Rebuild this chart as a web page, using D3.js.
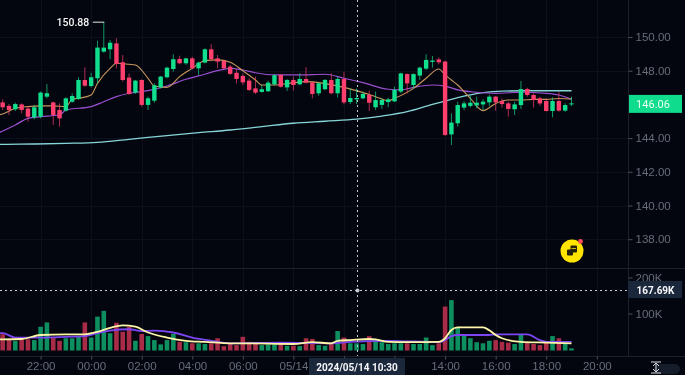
<!DOCTYPE html>
<html>
<head>
<meta charset="utf-8">
<script src="https://cdnjs.cloudflare.com/ajax/libs/d3/7.8.5/d3.min.js"></script>
<style>
    html, body { margin: 0; padding: 0; background: #04060f; overflow: hidden; }
    svg { display: block; font-family: Roboto, sans-serif; filter: blur(0.35px); }
    .tick text { fill: #666d7a; font-size: 11.5px; }
    .tick line { stroke: #4a505c; }
</style>
</head>
<body>
<div id="chart"></div>
<script>
// candles, 15 min apart, first one 05/13 20:30
const open = [146.12,145.91,145.71,146.00,145.75,145.23,145.27,146.46,146.12,145.67,145.63,146.16,146.32,147.45,147.09,147.55,149.13,149.27,149.62,148.50,147.59,146.70,147.45,145.97,146.22,147.01,147.61,148.10,148.70,148.44,148.73,148.14,148.48,149.27,148.73,148.58,148.24,147.88,147.69,147.41,146.95,146.74,146.78,147.19,147.75,147.01,147.45,147.19,147.51,147.31,146.66,146.90,147.45,146.66,147.51,146.14,146.30,146.36,146.56,145.83,145.97,146.14,146.18,146.76,147.80,147.15,147.71,148.12,148.52,148.67,148.54,144.22,144.88,145.81,145.91,145.94,146.00,146.12,146.46,146.20,146.06,145.71,145.96,146.91,146.56,146.36,146.20,145.61,146.20,145.63,146.00];
const close = [145.83,145.67,146.02,145.67,145.27,145.83,146.70,146.66,145.37,145.17,146.36,146.50,147.45,147.11,147.61,149.37,149.37,149.66,148.40,147.45,146.62,147.41,145.97,146.36,147.13,147.65,148.18,148.68,148.44,148.73,148.14,148.48,149.27,148.68,148.54,148.14,147.81,147.51,147.31,146.86,146.70,146.90,147.29,147.73,147.05,147.45,147.15,147.51,147.29,146.62,147.25,147.45,146.66,147.51,146.12,146.38,146.38,146.62,146.10,146.26,146.26,146.30,146.86,147.84,147.25,147.80,148.18,148.64,148.60,148.50,144.19,144.92,145.96,146.06,146.10,146.10,146.16,146.46,146.12,146.02,145.73,146.00,146.91,146.56,146.26,146.06,145.61,146.20,145.63,145.96,146.06];
const high = [146.30,146.02,146.10,146.06,145.91,145.97,146.76,147.21,146.16,146.06,146.42,146.66,147.61,148.20,147.88,149.78,150.88,149.82,149.92,148.93,147.84,147.45,147.49,146.46,147.25,147.69,148.24,148.97,148.89,148.77,148.83,148.54,149.33,149.57,148.93,148.64,148.34,148.08,147.84,147.55,147.65,147.15,147.41,147.79,147.79,147.51,147.65,147.84,148.20,147.35,147.29,147.51,147.84,147.65,147.94,146.95,146.95,146.76,146.82,146.76,146.36,146.40,147.05,147.88,147.84,147.84,148.24,148.97,148.87,148.79,148.60,145.47,146.16,146.20,146.50,146.46,146.30,146.56,146.50,146.36,146.16,146.16,147.39,146.99,146.66,146.46,146.36,146.42,146.76,146.06,146.46];
const low = [145.67,145.37,145.61,145.47,144.98,145.11,145.17,146.36,144.78,144.68,145.57,146.10,146.26,147.05,147.01,147.25,149.07,148.68,148.14,147.35,146.56,146.62,145.87,145.67,146.10,146.95,147.55,147.94,148.38,148.34,148.08,147.75,148.44,148.60,148.14,148.08,147.75,147.25,147.15,146.80,146.62,146.70,146.74,147.13,146.99,146.80,146.82,147.13,147.25,146.36,146.52,146.84,146.60,146.40,146.00,146.02,146.02,146.30,145.61,145.67,145.73,145.83,146.14,146.66,146.66,146.95,147.45,148.04,148.18,148.38,144.13,143.59,144.68,145.67,145.81,145.77,145.67,145.90,145.63,145.81,145.27,145.37,145.73,146.46,145.81,145.92,145.57,145.23,145.57,145.57,145.90];
const volume = [45,31,27,34,31,29,66,78,36,27,34,34,38,78,36,94,110,48,77,52,66,27,46,40,29,17,29,46,24,23,20,20,18,20,34,12,20,15,38,24,22,15,17,17,18,13,13,12,34,32,15,13,18,54,36,20,20,18,40,29,23,18,20,20,20,18,18,36,15,20,122,140,66,43,34,23,20,27,29,24,22,18,43,22,18,15,22,40,34,20,6];

// moving averages: [candle number, value]
const maFast = [[0,145.35],[1,145.43],[3,145.77],[5,145.87],[7,145.91],[9,145.91],[11,145.87],[12,146.30],[13,146.36],[15,146.56],[16,147.25],[18,148.14],[19,148.44],[21,148.38],[22,148.34],[24,147.55],[25,147.09],[27,147.01],[29,147.65],[31,148.14],[33,148.60],[35,148.64],[37,148.50],[39,148.00],[41,147.45],[42,147.15],[44,147.15],[47,147.29],[49,147.35],[55,147.01],[58,146.70],[60,146.46],[62,146.22],[63,146.36],[66,146.95],[68,147.55],[70,148.10],[71,147.75],[72,147.45],[73,147.15],[74,146.76],[75,146.36],[77,145.63],[79,146.06],[81,146.26],[83,146.26],[85,146.30],[87,146.30],[89,146.35],[91,146.32]];
const maMid = [[0,144.25],[1,144.42],[3,144.78],[5,145.17],[7,145.27],[10,145.37],[11,145.67],[15,145.87],[17,146.16],[19,146.46],[21,146.66],[24,146.82],[27,147.09],[30,147.49],[32,147.69],[35,148.00],[37,148.14],[39,148.04],[41,147.88],[44,147.75],[48,147.75],[52,147.79],[55,147.55],[58,147.29],[62,146.90],[64,146.86],[66,147.01],[69,147.15],[71,147.09],[73,146.86],[76,146.72],[79,146.66],[83,146.72],[87,146.66],[89,146.56],[91,146.30]];
const maSlow = [[0,143.62],[1,143.63],[6,143.65],[11,143.69],[16,143.75],[21,143.93],[27,144.15],[32,144.32],[37,144.48],[42,144.68],[47,144.88],[52,145.00],[57,145.12],[61,145.31],[65,145.57],[69,146.00],[71,146.20],[73,146.40],[77,146.70],[80,146.79],[84,146.81],[91,146.81]];
const volMaA = [[0,31],[1,31],[4,32],[7,43],[11,45],[14,45],[16,52],[18,63],[20,70],[22,66],[24,50],[27,36],[30,27],[33,24],[37,20],[39,20],[47,18],[50,23],[53,20],[54,27],[56,29],[59,32],[60,31],[62,24],[65,23],[70,24],[71,34],[72,57],[73,64],[77,64],[78,56],[79,43],[80,34],[83,24],[87,22],[91,20]];
const volMaB = [[0,48],[1,48],[3,36],[7,36],[11,38],[14,40],[16,48],[18,55],[21,59],[23,54],[25,55],[28,50],[31,36],[34,27],[37,20],[45,22],[53,20],[56,24],[62,27],[70,23],[71,29],[72,40],[73,43],[78,43],[79,45],[84,45],[86,29],[87,24],[91,24]];

// 146.00 sits under the last price tag, so it has no label
const priceTicks = [150, 148, 144, 142, 140, 138];
const volTicks = [200, 100];
const lastPrice = 146.06;
const highPrice = 150.88;
const crossVol = 167.69;
const crossLabel = "2024/05/14 10:30";

const width = 685, height = 375;
const chartRight = 628;
const firstBar = Date.UTC(2024, 4, 13, 20, 15);
const barMs = 15 * 60 * 1000;
const barTime = k => new Date(firstBar + k * barMs);

const xScale = d3.scaleUtc()
    .domain([barTime(1), barTime(91)])
    .range([2.67, 571.5]);
const yScale = d3.scaleLinear().domain([150, 138]).range([37, 239.2]);
const volScale = d3.scaleLinear().domain([0, 200]).range([350.5, 278.5]);

const timeTicks = d3.range(0, 12).map(i => new Date(Date.UTC(2024, 4, 13, 22 + i * 2)));

const green = "#10e08e", red = "#ff3f6e";
const volGreen = "#0e8f5f", volRed = "#a82c48";

const svg = d3.select("#chart").append("svg")
    .attr("width", width).attr("height", height);

svg.append("rect").attr("width", width).attr("height", height).attr("fill", "#04060f");

// grid
const grid = svg.append("g").attr("stroke", "#0b101c").attr("stroke-width", 1);
timeTicks.forEach(t => {
    const x = Math.round(xScale(t)) + 0.5;
    grid.append("line").attr("x1", x).attr("x2", x).attr("y1", 0).attr("y2", 356);
});
priceTicks.forEach(p => {
    const y = Math.round(yScale(p)) + 0.5;
    grid.append("line").attr("x1", 0).attr("x2", chartRight).attr("y1", y).attr("y2", y);
});

// panel borders
const border = svg.append("g").attr("stroke", "#1a202c").attr("stroke-width", 1);
border.append("line").attr("x1", 0).attr("x2", width).attr("y1", 268.5).attr("y2", 268.5);
border.append("line").attr("x1", 0).attr("x2", width).attr("y1", 356.5).attr("y2", 356.5);
border.append("line").attr("x1", chartRight + 0.5).attr("x2", chartRight + 0.5).attr("y1", 0).attr("y2", 356);

// axes
const priceAxis = svg.append("g")
    .attr("transform", `translate(${chartRight + 0.5},0)`)
    .call(d3.axisRight(yScale).tickValues(priceTicks).tickSize(4).tickPadding(3).tickFormat(d3.format(".2f")));
const volAxis = svg.append("g")
    .attr("transform", `translate(${chartRight + 0.5},-1)`)
    .call(d3.axisRight(volScale).tickValues(volTicks).tickSize(4).tickPadding(3).tickFormat(d => d + "K"));
// 10:00 and 12:00 are covered by the crosshair date tag
const timeAxis = svg.append("g")
    .attr("transform", "translate(0,356.5)")
    .call(d3.axisBottom(xScale).tickValues(timeTicks).tickSize(3).tickPadding(2)
        .tickFormat(d => {
            const h = d.getUTCHours();
            if (h === 10 || h === 12) return "";
            return h === 8 ? "05/14" : d3.utcFormat("%H:%M")(d);
        }));
[priceAxis, volAxis, timeAxis].forEach(a => a.select(".domain").remove());

// moving averages, under the candles
const maLine = scale => d3.line().x(d => xScale(barTime(d[0]))).y(d => scale(d[1])).curve(d3.curveMonotoneX);
const lines = svg.append("g").attr("fill", "none");
lines.append("path").attr("d", maLine(yScale)(maSlow)).attr("stroke", "#86d6d8").attr("stroke-width", 1.3);
lines.append("path").attr("d", maLine(yScale)(maMid)).attr("stroke", "#9a4fd0").attr("stroke-width", 1.2);
lines.append("path").attr("d", maLine(yScale)(maFast)).attr("stroke", "#c8955c").attr("stroke-width", 1.1);

// candles
const candleData = open.map((o, i) => ({
    k: i + 1, open: o, close: close[i], high: high[i], low: low[i], volume: volume[i], up: close[i] >= o
}));

const candles = svg.append("g").selectAll("g").data(candleData).enter().append("g")
    .attr("fill", d => d.up ? green : red)
    .attr("stroke", d => d.up ? green : red);
candles.append("line")
    .attr("x1", d => xScale(barTime(d.k))).attr("x2", d => xScale(barTime(d.k)))
    .attr("y1", d => yScale(d.high)).attr("y2", d => yScale(d.low))
    .attr("stroke-width", 0.9).attr("stroke-opacity", 0.75);
candles.append("rect")
    .attr("x", d => xScale(barTime(d.k)) - 2.2).attr("width", 4.4)
    .attr("y", d => yScale(Math.max(d.open, d.close)))
    .attr("height", d => Math.max(1, Math.abs(yScale(d.open) - yScale(d.close))))
    .attr("stroke", "none");

// high marker
const highX = xScale(barTime(17));
svg.append("line").attr("x1", highX - 11).attr("x2", highX + 0.5)
    .attr("y1", yScale(highPrice)).attr("y2", yScale(highPrice))
    .attr("stroke", "#e8e8e8").attr("stroke-width", 1);
svg.append("text").attr("x", highX - 14.5).attr("y", yScale(highPrice) + 4)
    .attr("text-anchor", "end").attr("fill", "#f4f4f4").attr("font-size", 10.5).attr("font-weight", 500)
    .text(highPrice.toFixed(2));

// volume
svg.append("g").selectAll("rect").data(candleData).enter().append("rect")
    .attr("x", d => xScale(barTime(d.k)) - 2.3).attr("width", 4.6)
    .attr("y", d => volScale(d.volume))
    .attr("height", d => volScale(0) - volScale(d.volume))
    .attr("fill", d => d.up ? volGreen : volRed);
const volLines = svg.append("g").attr("fill", "none");
volLines.append("path").attr("d", maLine(volScale)(volMaB)).attr("stroke", "#7b46f2").attr("stroke-width", 1.8);
volLines.append("path").attr("d", maLine(volScale)(volMaA)).attr("stroke", "#fdf6a8").attr("stroke-width", 1.8);

// crosshair
const crossX = Math.round(xScale(new Date(Date.UTC(2024, 4, 14, 10, 30)))) + 0.5;
const crossY = Math.round(volScale(crossVol)) + 0.5;
const cross = svg.append("g").attr("stroke", "#c4ccd8").attr("stroke-width", 1).attr("stroke-dasharray", "2 3");
cross.append("line").attr("x1", crossX).attr("x2", crossX).attr("y1", 0).attr("y2", 356);
cross.append("line").attr("x1", 0).attr("x2", chartRight).attr("y1", crossY).attr("y2", crossY);
svg.append("circle").attr("cx", crossX).attr("cy", crossY).attr("r", 2).attr("fill", "#c4ccd8");

// last price tag
svg.append("rect").attr("x", 629).attr("y", yScale(lastPrice) - 8.5).attr("width", 53).attr("height", 18).attr("fill", "#0fdc8c");
svg.append("text").attr("x", 653).attr("y", yScale(lastPrice) + 4.5)
    .attr("text-anchor", "middle").attr("fill", "#eafff6").attr("font-size", 11)
    .text(lastPrice.toFixed(2));

// crosshair tags
svg.append("rect").attr("x", 628).attr("y", crossY - 9.5).attr("width", 54).attr("height", 17).attr("fill", "#1b273a");
svg.append("text").attr("x", 655.5).attr("y", crossY + 3.5)
    .attr("text-anchor", "middle").attr("fill", "#f6f7fa").attr("font-size", 10).attr("font-weight", 700)
    .text(crossVol.toFixed(2) + "K");
svg.append("rect").attr("x", 309).attr("y", 358).attr("width", 96).attr("height", 17).attr("fill", "#1b273a");
svg.append("text").attr("x", 357).attr("y", 371)
    .attr("text-anchor", "middle").attr("fill", "#f6f7fa").attr("font-size", 10).attr("font-weight", 700)
    .text(crossLabel);

// coin badge
const coin = svg.append("g").attr("transform", "translate(572,251)");
coin.append("circle").attr("r", 11.5).attr("fill", "#ffe400");
coin.append("rect").attr("x", -5).attr("y", -1.5).attr("width", 6).attr("height", 6).attr("rx", 1).attr("fill", "#23200c");
coin.append("rect").attr("x", -1.5).attr("y", -5.5).attr("width", 6.5).attr("height", 7).attr("rx", 1).attr("fill", "#23200c");
coin.append("line").attr("x1", -0.5).attr("x2", 4).attr("y1", -2.5).attr("y2", -2.5).attr("stroke", "#ffe400").attr("stroke-width", 0.8);
coin.append("circle").attr("cx", 8.5).attr("cy", -9.5).attr("r", 2.4).attr("fill", "#ff4d5a");

// scale icon, bottom right
svg.append("rect").attr("x", 654).attr("y", 364).attr("width", 26).attr("height", 10).attr("rx", 5).attr("fill", "#161d2a");
const icon = svg.append("g").attr("transform", "translate(656,368)").attr("stroke", "#d8dce2").attr("fill", "none");
icon.append("line").attr("x1", -5).attr("x2", 5).attr("y1", -6).attr("y2", -6);
icon.append("line").attr("x1", -5).attr("x2", 5).attr("y1", 5).attr("y2", 5);
icon.append("line").attr("x1", 0).attr("x2", 0).attr("y1", -5).attr("y2", 4);
icon.append("path").attr("d", "M-3,-2 L0,-5 L3,-2 M-3,1 L0,4 L3,1");
</script>
</body>
</html>
